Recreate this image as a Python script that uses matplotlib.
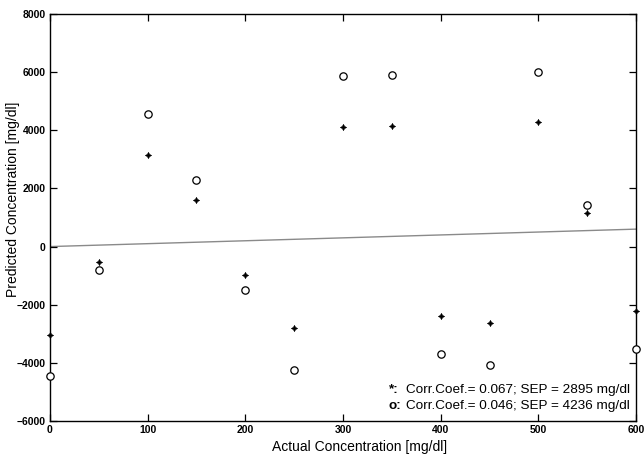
import numpy as np
import matplotlib
matplotlib.use("Agg")
import matplotlib.pyplot as plt

plt.rcParams['font.family'] = ['Liberation Sans', 'DejaVu Sans']

# Data
actual = [0, 50, 100, 150, 200, 250, 300, 350, 400, 450, 500, 550, 600]
pred_star = [-3040, -530, 3150, 1600, -980, -2800, 4110, 4150, -2390, -2620, 4290, 1160, -2220]
pred_circle = [-4450, -820, 4560, 2290, -1490, -4240, 5870, 5900, -3690, -4070, 6010, 1430, -3520]
ideal_x = [0, 600]
ideal_y = [0, 600]

xticks = [0, 100, 200, 300, 400, 500, 600]
yticks = [-6000, -4000, -2000, 0, 2000, 4000, 6000, 8000]

fig = plt.figure(figsize=(6.44, 4.58), dpi=100)
ax = fig.add_axes([0.0776, 0.0808, 0.910, 0.8886])

ax.plot(ideal_x, ideal_y, color="#8a8a8a", lw=1.0, zorder=1)
ax.scatter(actual, pred_circle, s=28, facecolors="white", edgecolors="black",
           linewidths=0.9, zorder=3, clip_on=False)
ax.scatter(actual, pred_star, s=22, marker=(4, 1, 0), color="black",
           linewidths=0.3, zorder=4, clip_on=False)

ax.set_xlim(0, 600)
ax.set_ylim(-6000, 8000)
ax.set_xticks(xticks)
ax.set_yticks(yticks)
ax.tick_params(direction="in", top=True, right=True, length=5, width=0.9,
               labelsize=7.5, pad=3)
for lab in ax.get_xticklabels() + ax.get_yticklabels():
    lab.set_fontweight("bold")
for s in ax.spines.values():
    s.set_linewidth(1.0)

ax.set_xlabel("Actual Concentration [mg/dl]", fontsize=10)
ax.set_ylabel("Predicted Concentration [mg/dl]", fontsize=10)
ax.xaxis.set_label_coords(0.529, -0.047)
ax.yaxis.set_label_coords(-0.052, 0.545)

# stats annotation
rows = [("*:", "Corr.Coef.= 0.067; SEP = 2895 mg/dl", 0.076),
        ("o:", "Corr.Coef.= 0.046; SEP = 4236 mg/dl", 0.037)]
for sym, txt, yy in rows:
    ax.text(0.578, yy, sym, transform=ax.transAxes, fontsize=9.7,
            fontweight="bold", va="center")
    ax.text(0.607, yy, txt, transform=ax.transAxes, fontsize=9.7, va="center")

fig.savefig("out.png", dpi=100)
